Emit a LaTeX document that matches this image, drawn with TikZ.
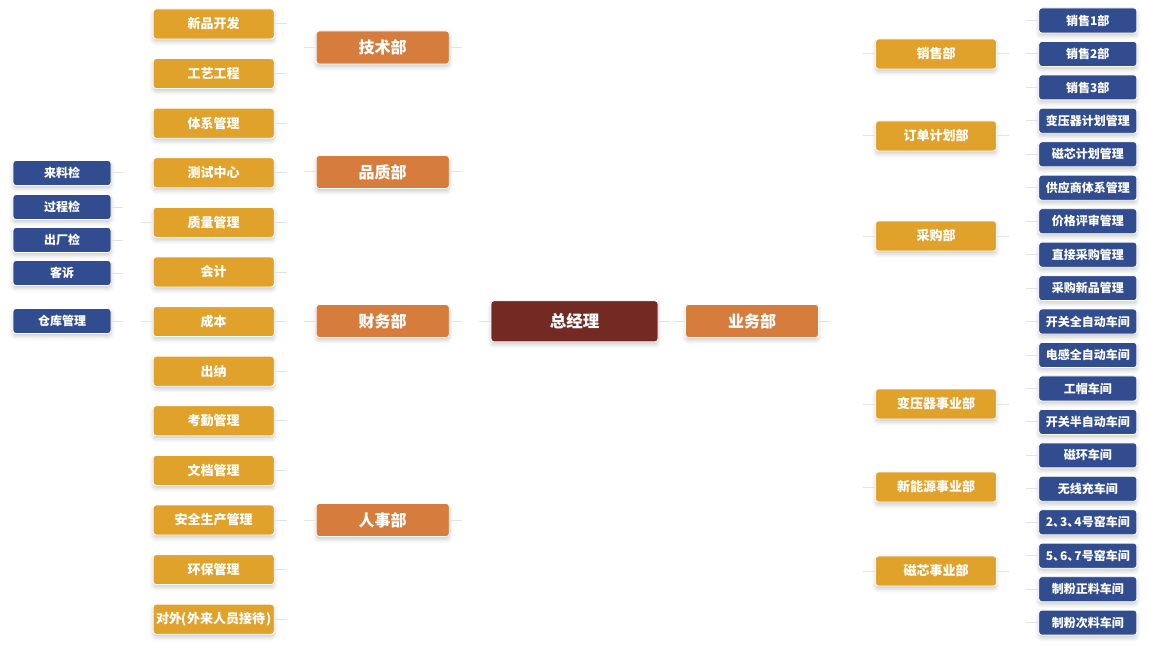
\documentclass[tikz,border=0pt]{standalone}
\usepackage{fontspec}
\newfontfamily\cjk{Noto Sans CJK SC}
\usetikzlibrary{shadows.blur}
\definecolor{cRoot}{HTML}{732A23}
\definecolor{cOrange}{HTML}{D67C3C}
\definecolor{cYellow}{HTML}{E0A22B}
\definecolor{cBlue}{HTML}{324D8F}
\definecolor{cStub}{HTML}{E4E4E4}
\tikzset{
  box/.style={rounded corners=3pt, draw=white, line width=0.8pt, text=white, inner sep=0pt,
    blur shadow={shadow xshift=0pt, shadow yshift=-3pt, shadow blur radius=4pt, shadow opacity=20}},
  rootbox/.style={box, fill=cRoot, minimum width=167pt, minimum height=41pt,
    font=\cjk\bfseries\fontsize{16.5}{20}\selectfont},
  deptbox/.style={box, fill=cOrange, minimum width=133pt, minimum height=33pt,
    font=\cjk\bfseries\fontsize{16}{20}\selectfont},
  secbox/.style={box, fill=cYellow, minimum width=121pt, minimum height=30pt,
    font=\cjk\bfseries\fontsize{13}{16}\selectfont},
  unitbox/.style={box, fill=cBlue, minimum width=98pt, minimum height=25pt,
    font=\cjk\bfseries\fontsize{12}{14}\selectfont},
  stub/.style={draw=cStub, line width=1pt}
}
\newcommand\mylinkR[2]{\draw[stub] (#1.east) -- ++(12,0); \draw[stub] (#2.west) -- ++(-12,0);}
\newcommand\mylinkL[2]{\draw[stub] (#1.west) -- ++(-12,0); \draw[stub] (#2.east) -- ++(12,0);}
\newcommand\dun{、\kern-5pt}
\begin{document}
\begin{tikzpicture}[x=1pt, y=-1pt]
\useasboundingbox (0,0) rectangle (1149,650);
% root and departments
\node[rootbox] (root) at (574.5,321.3) {总经理};
\node[deptbox] (yw) at (752,321) {业务部};
\node[deptbox] (js) at (382.7,47.5) {技术部};
\node[deptbox] (pz) at (382.7,172) {品质部};
\node[deptbox] (cw) at (382.7,321) {财务部};
\node[deptbox] (rs) at (382.7,520) {人事部};
% left sections
\foreach \n/\t [count=\i from 0] in {l0/新品开发, l1/工艺工程, l2/体系管理, l3/测试中心, l4/质量管理, l5/会计, l6/成本, l7/出纳, l8/考勤管理, l9/文档管理, l10/安全生产管理, l11/环保管理}
  \node[secbox] (\n) at (213.7,{24+49.6*\i}) {\t};
\node[secbox, font=\cjk\bfseries\fontsize{13}{16}\selectfont] (l12) at (213.7,619.2) {对外\kern-1pt(\kern1pt外来人员接待\kern1pt)};
% left units
\node[unitbox] (b0) at (62,173) {来料检};
\node[unitbox] (b1) at (62,207) {过程检};
\node[unitbox] (b2) at (62,240) {出厂检};
\node[unitbox] (b3) at (62,273) {客诉};
\node[unitbox] (b4) at (62,321) {仓库管理};
% right sections
\node[secbox] (r0) at (936,54) {销售部};
\node[secbox] (r1) at (936,136) {订单计划部};
\node[secbox] (r2) at (936,236) {采购部};
\node[secbox] (r3) at (936,404) {变压器事业部};
\node[secbox] (r4) at (936,487) {新能源事业部};
\node[secbox] (r5) at (936,571) {磁芯事业部};
% right units
\foreach \t [count=\i from 0] in {销售1部, 销售2部, 销售3部, 变压器计划管理, 磁芯计划管理, 供应商体系管理, 价格评审管理, 直接采购管理, 采购新品管理, 开关全自动车间, 电感全自动车间, 工帽车间, 开关半自动车间, 磁环车间, 无线充车间, 2\dun 3\dun 4号窑车间, 5\dun 6\dun 7号窑车间, 制粉正料车间, 制粉次料车间}
  \node[unitbox] (u\i) at (1087.8,{20.5+33.45*\i}) {\t};
% connectors (only short stubs visible)
\mylinkL{root}{js} \mylinkL{root}{pz} \mylinkL{root}{cw} \mylinkL{root}{rs}
\mylinkR{root}{yw}
\mylinkL{js}{l0} \mylinkL{js}{l1}
\mylinkL{pz}{l2} \mylinkL{pz}{l3} \mylinkL{pz}{l4}
\mylinkL{cw}{l5} \mylinkL{cw}{l6} \mylinkL{cw}{l7}
\foreach \k in {8,...,12} { \mylinkL{rs}{l\k} }
\foreach \k in {0,...,3} { \mylinkL{l4}{b\k} }
\mylinkL{l6}{b4}
\foreach \k in {0,...,5} { \mylinkR{yw}{r\k} }
\foreach \k in {0,1,2} { \mylinkR{r0}{u\k} }
\foreach \k in {3,4} { \mylinkR{r1}{u\k} }
\foreach \k in {5,...,8} { \mylinkR{r2}{u\k} }
\foreach \k in {9,...,14} { \mylinkR{r3}{u\k} }
\foreach \k in {15,...,18} { \mylinkR{r5}{u\k} }
\end{tikzpicture}
\end{document}
